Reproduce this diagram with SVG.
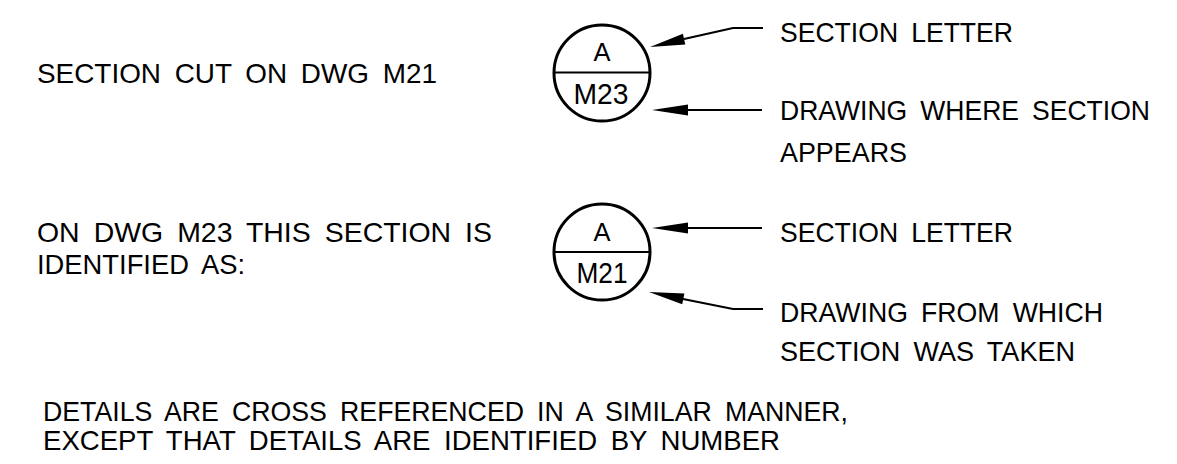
<svg xmlns="http://www.w3.org/2000/svg" width="1177" height="464" viewBox="0 0 1177 464">
<style>
  .t { font-family: "Liberation Sans", Arial, sans-serif; font-size: 28px; fill: #000; word-spacing: 6px; }
  .c { font-family: "Liberation Sans", Arial, sans-serif; fill: #000; text-anchor: middle; }
  .bub { fill: none; stroke: #000; stroke-width: 3; }
  .div { stroke: #000; stroke-width: 2; }
  .ld { fill: none; stroke: #000; stroke-width: 2; }
  .ah { fill: #000; stroke: none; }
</style>
<rect width="1177" height="464" fill="#fff"/>

<g id="left-labels">
  <text class="t" x="37" y="83" textLength="400" lengthAdjust="spacingAndGlyphs">SECTION CUT ON DWG M21</text>
  <text class="t" x="37" y="242" textLength="455" lengthAdjust="spacingAndGlyphs">ON DWG M23 THIS SECTION IS</text>
  <text class="t" x="37" y="274" textLength="208" lengthAdjust="spacingAndGlyphs">IDENTIFIED AS:</text>
</g>

<g id="bubble-1">
  <circle class="bub" cx="602" cy="73" r="48"/>
  <line class="div" x1="554" y1="72.5" x2="650" y2="72.5"/>
  <text class="c" x="602" y="61" font-size="26" textLength="17" lengthAdjust="spacingAndGlyphs">A</text>
  <text class="c" x="601" y="104" font-size="29" textLength="55" lengthAdjust="spacingAndGlyphs">M23</text>
</g>

<g id="bubble-2">
  <circle class="bub" cx="602" cy="252" r="48"/>
  <line class="div" x1="554" y1="252" x2="650" y2="252"/>
  <text class="c" x="602" y="241" font-size="26" textLength="17" lengthAdjust="spacingAndGlyphs">A</text>
  <text class="c" x="602" y="283" font-size="29" textLength="51" lengthAdjust="spacingAndGlyphs">M21</text>
</g>

<g id="connectors">
  <polyline class="ld" points="684,39 733,28 763,28"/>
  <polygon class="ah" points="650,47 685.3,44.6 682.9,33.8"/>
  <line class="ld" x1="686" y1="110" x2="762" y2="110"/>
  <polygon class="ah" points="652,110 688,104.5 688,115.5"/>
  <line class="ld" x1="686" y1="228" x2="762" y2="228"/>
  <polygon class="ah" points="652,228 688,222.5 688,233.5"/>
  <polyline class="ld" points="683,299 733,309 763,309"/>
  <polygon class="ah" points="649,292 682.2,304.3 684.4,293.5"/>
</g>

<g id="right-labels">
  <text class="t" x="780" y="42" textLength="233" lengthAdjust="spacingAndGlyphs">SECTION LETTER</text>
  <text class="t" x="780" y="120" textLength="370" lengthAdjust="spacingAndGlyphs">DRAWING WHERE SECTION</text>
  <text class="t" x="780" y="162" textLength="127" lengthAdjust="spacingAndGlyphs">APPEARS</text>
  <text class="t" x="780" y="242" textLength="233" lengthAdjust="spacingAndGlyphs">SECTION LETTER</text>
  <text class="t" x="780" y="322" textLength="323" lengthAdjust="spacingAndGlyphs">DRAWING FROM WHICH</text>
  <text class="t" x="780" y="361" textLength="295" lengthAdjust="spacingAndGlyphs">SECTION WAS TAKEN</text>
</g>

<g id="note">
  <text class="t" x="43" y="421" textLength="805" lengthAdjust="spacingAndGlyphs">DETAILS ARE CROSS REFERENCED IN A SIMILAR MANNER,</text>
  <text class="t" x="43" y="450" textLength="737" lengthAdjust="spacingAndGlyphs">EXCEPT THAT DETAILS ARE IDENTIFIED BY NUMBER</text>
</g>
</svg>
